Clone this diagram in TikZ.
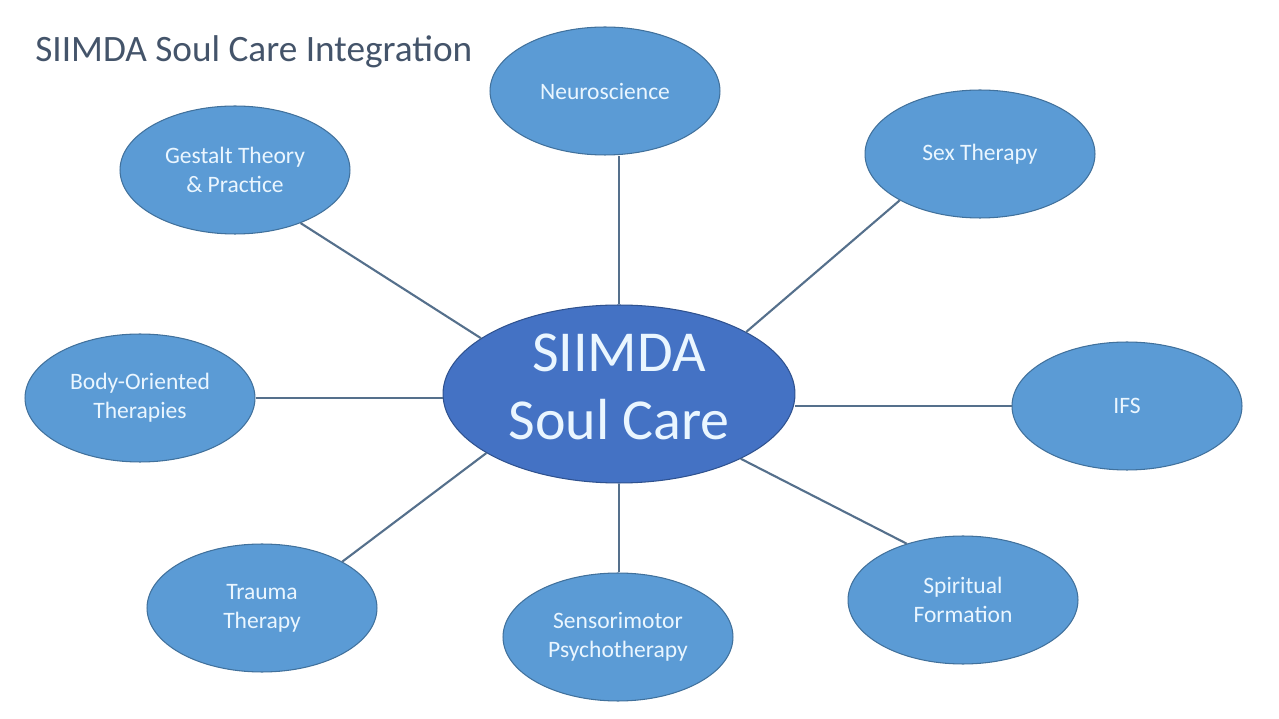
\documentclass[tikz,border=0pt]{standalone}
\usepackage{fontspec}
\setmainfont{Carlito}
\usetikzlibrary{shapes.geometric}

\definecolor{petal}{HTML}{5B9BD5}
\definecolor{petaledge}{HTML}{41719C}
\definecolor{hub}{HTML}{4472C4}
\definecolor{hubedge}{HTML}{2F528F}
\definecolor{spoke}{HTML}{55708C}
\definecolor{titleink}{HTML}{44546A}
\definecolor{labelink}{HTML}{EAF6FF}

\begin{document}
\begin{tikzpicture}[x = 0.02cm, y = -0.02cm, % pixel grid of the slide
                spoke line/.style = {draw = spoke, line width = 1.2pt},
                petal node/.style = {ellipse, draw = petaledge, fill = petal,
                    line width = 0.6pt, minimum width = 4.6cm,
                    minimum height = 2.56cm, align = center, inner sep = 0pt,
                    text = labelink, font = \fontsize{13.4}{16.5}\selectfont}
            ]

            \useasboundingbox[fill = white] (0,0) rectangle (1279,719);

            % title
            \node (title) [anchor = base west, text = titleink,
                font = \fontsize{21.2}{24}\selectfont, inner sep = 0pt]
                at (35,62) {SIIMDA Soul Care Integration};

            % hub
            \node (hub) [ellipse, draw = hubedge, fill = hub,
                line width = 0.6pt, minimum width = 7.04cm,
                minimum height = 3.56cm, align = center, inner sep = 0pt,
                text depth = 8pt,
                text = labelink, font = \fontsize{33}{38.5}\selectfont]
                at (619,394) {SIIMDA\\Soul Care};

            % petals
            \node (neuro) [petal node] at (605,91) {Neuroscience};
            \node (gestalt) [petal node] at (235,170) {Gestalt Theory\\\& Practice};
            \node (sex) [petal node] at (980,154) {Sex Therapy};
            \node (body) [petal node] at (140,398) {Body-Oriented\\Therapies};
            \node (ifs) [petal node] at (1127,406) {IFS};
            \node (trauma) [petal node] at (262,608) {Trauma\\Therapy};
            \node (senso) [petal node] at (618,637) {Sensorimotor\\Psychotherapy};
            \node (spirit) [petal node] at (963,600) {Spiritual\\Formation};

            % spokes
            \path[spoke line] (hub.north) -- (hub.north |- neuro.south);
            \path[spoke line] (hub.158) -- (gestalt.-39);
            \path[spoke line] (hub.26) -- (sex.210);
            \path[spoke line] (body.east) -- (body.east -| hub.west);
            \path[spoke line] (ifs.west) -- (ifs.west -| hub.east);
            \path[spoke line] (hub.204) -- (trauma.30);
            \path[spoke line] (hub.south) -- (hub.south |- senso.north);
            \path[spoke line] (hub.-28) -- (spirit.135);
\end{tikzpicture}
\end{document}
